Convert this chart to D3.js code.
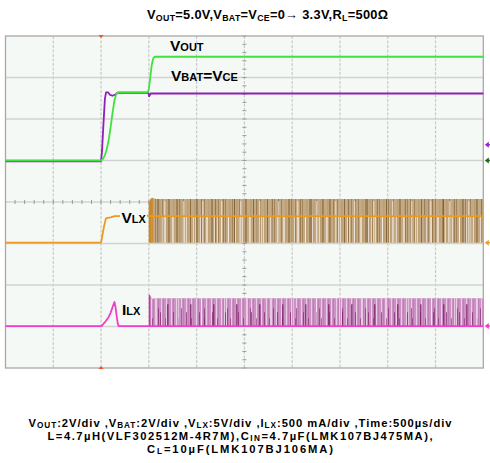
<!DOCTYPE html>
<meta charset="utf-8">
<style>
body { margin: 0; background: #fff; }
svg { display: block; font-family: "Liberation Sans", Arial, sans-serif; font-weight: bold; }
</style>
<body>
<script src="https://d3js.org/d3.v7.min.js"></script>
<script>

// ---- data (time in µs, volts / mA) ----
var vout = [[0,0],[1000,0],[1020,0.08],[1040,0.25],[1060,0.55],[1080,1.0],[1100,1.6],[1120,2.3],
            [1140,2.9],[1160,3.2],[1180,3.3],[1490,3.3],[1500,3.45],[1515,4.0],[1530,4.6],
            [1545,4.9],[1560,5.0],[5000,5.0]];
var vbat = [[0,0],[1000,0],[1010,0.5],[1025,1.8],[1040,3.0],[1052,3.32],[1075,3.32],[1095,3.2],
            [1120,3.16],[1150,3.22],[1175,3.3],[1495,3.3],[1503,3.14],[1520,3.27],[5000,3.27]];
var vlx  = [[0,0],[1000,0],[1010,0.6],[1030,1.9],[1050,2.9],[1070,3.0],[1100,3.05],[1140,3.2],
            [1490,3.25],[1500,3.2],[5000,3.2]];
var vlxHigh = [[1500,4.8],[1520,5.3],[1540,5.4],[1560,5.3],[1600,5.25],[5000,5.25]];
var ilx  = [[0,0],[1005,0],[1020,20],[1050,60],[1080,110],[1100,160],[1115,210],[1130,260],
            [1140,290],[1150,240],[1160,150],[1175,30],[1185,0],[1500,0],[5000,0]];
var ilxHigh = [[1500,380],[1515,370],[1535,330],[1560,335],[5000,335]];

var burstEnd = 1540;      // dense start of switching
var triggerT = 1000;      // trigger position

var timeTicks = d3.range(0, 5001, 500);
var divTicks  = d3.range(0, 9, 1);

// channel settings: ground position (divisions from bottom) and units per division
var chVout = {ground: 5.0,  perDiv: 2},
    chVbat = {ground: 4.98, perDiv: 2},
    chVlx  = {ground: 3.02, perDiv: 5},
    chIlx  = {ground: 1.01, perDiv: 500};

var titleParts = [["V",0],["OUT",1],["=5.0V,V",0],["BAT",1],["=V",0],["CE",1],["=0\u2192 3.3V,R",0],["L",1],["=500\u03a9",0]];
var noteLines = [
  [["V",0],["OUT",1],[":2V/div ,V",0],["BAT",1],[":2V/div ,V",0],["LX",1],[":5V/div ,I",0],["LX",1],[":500 mA/div ,Time:500\u00b5s/div",0]],
  [["L=4.7\u00b5H(VLF302512M-4R7M),C",0],["IN",1],["=4.7\u00b5F(LMK107BJ475MA),",0]],
  [["C",0],["L",1],["=10\u00b5F(LMK107BJ106MA)",0]]
];
var noteWidths = [423, 385, 186];

// ---- layout ----
var W = 490, H = 463;
var x0 = 5.5, x1 = 483.3, y0 = 36, y1 = 368;

var svg = d3.select("body").append("svg").attr("width", W).attr("height", H);

var x = d3.scaleLinear().domain([0, 5000]).range([x0, x1]);
var yDiv = d3.scaleLinear().domain([0, 8]).range([y1, y0]);
function yOf(ch) { return function(v) { return yDiv(ch.ground + v / ch.perDiv); }; }

// background
svg.append("rect").attr("x", x0).attr("y", y0).attr("width", x1 - x0).attr("height", y1 - y0)
  .attr("fill", "#f5f9f5");

// grid
svg.append("g").selectAll("line").data(timeTicks.slice(1, -1)).enter().append("line")
  .attr("x1", function(d) { return x(d); }).attr("x2", function(d) { return x(d); })
  .attr("y1", y0).attr("y2", y1)
  .attr("stroke", "#c9c9c9").attr("stroke-width", 1.2).attr("stroke-dasharray", "3,1.5");
svg.append("g").selectAll("line").data(divTicks.slice(1, -1)).enter().append("line")
  .attr("x1", x0).attr("x2", x1)
  .attr("y1", function(d) { return yDiv(d); }).attr("y2", function(d) { return yDiv(d); })
  .attr("stroke", "#d2d2d2").attr("stroke-width", 1.4);

// centre line minor ticks
var minorT = d3.range(0, 5001, 100);
svg.append("g").selectAll("line").data(minorT).enter().append("line")
  .attr("x1", function(d) { return x(d); }).attr("x2", function(d) { return x(d); })
  .attr("y1", yDiv(4) - 2).attr("y2", yDiv(4) + 2)
  .attr("stroke", "#9a9a9a").attr("stroke-width", 1);
var minorV = d3.range(0, 8.01, 0.2);
svg.append("g").selectAll("line").data(minorV).enter().append("line")
  .attr("x1", x(2500) - 2).attr("x2", x(2500) + 2)
  .attr("y1", function(d) { return yDiv(d); }).attr("y2", function(d) { return yDiv(d); })
  .attr("stroke", "#9a9a9a").attr("stroke-width", 1);

// border
svg.append("rect").attr("x", x0).attr("y", y0).attr("width", x1 - x0).attr("height", y1 - y0)
  .attr("fill", "none").attr("stroke", "#a8a8a8").attr("stroke-width", 1.3);

// ---- textures for the switching bands ----
var defs = svg.append("defs");
function stripes(id, w, h, yOrigin, base, lines) {
  var p = defs.append("pattern").attr("id", id).attr("patternUnits", "userSpaceOnUse")
    .attr("width", w).attr("height", h).attr("y", yOrigin);
  if (base) p.append("rect").attr("width", w).attr("height", h).attr("fill", base);
  lines.forEach(function(l) {
    p.append("rect").attr("x", l[0]).attr("y", h - l[3]).attr("width", l[1]).attr("height", l[3])
      .attr("fill", l[2]).attr("opacity", l[4] == null ? 1 : l[4]);
  });
}

var vlxTop = yOf(chVlx)(5.25), vlxBot = yOf(chVlx)(0);
var vh = vlxBot - vlxTop + 4;
stripes("vlxA", 7, vh, vlxTop - 4, "#c4aa84", [[1, 1, "#9a7a4e", vh, 0.8], [4, 1, "#ffffff", vh - 20, 0.55], [5.5, 0.8, "#b39467", vh]]);
stripes("vlxB", 11, vh, vlxTop - 4, null, [[3, 1, "#6e4d22", vh, 0.45], [8, 1, "#ffffff", vh - 22, 0.5]]);
stripes("vlxC", 19, vh, vlxTop - 4, null, [[12, 1.3, "#f4efe6", vh - 6, 0.6], [6, 1, "#5a3c15", vh - 4, 0.4]]);

var ilxTop = yOf(chIlx)(335), ilxBot = yOf(chIlx)(0);
var ih = ilxBot - ilxTop + 4;
stripes("ilxA", 5, ih, ilxTop - 4, "#cc92c3", [[1, 1, "#ffffff", ih - 4, 0.55], [3, 1, "#bf7eb4", ih]]);
stripes("ilxB", 13, ih, ilxTop - 4, null, [[4, 1, "#8a2574", ih - 18, 0.75], [9, 1, "#8a2574", ih - 24, 0.6]]);
stripes("ilxC", 23, ih, ilxTop - 4, null, [[6, 1.5, "#7a1a66", ih - 10, 0.75], [17, 1, "#ffffff", ih - 4, 0.5], [20, 1, "#7a1a66", ih - 14, 0.6]]);

// ---- VLX band ----
var yVlx = yOf(chVlx);
var vlxArea = d3.area().x(function(d) { return x(d[0]); })
  .y0(yVlx(0)).y1(function(d) { return yVlx(d[1]); });
["vlxA", "vlxB", "vlxC"].forEach(function(id) {
  svg.append("path").datum(vlxHigh).attr("d", vlxArea).attr("fill", "url(#" + id + ")");
});
svg.append("path").datum(vlxHigh.filter(function(d) { return d[0] <= burstEnd; }))
  .attr("d", vlxArea).attr("fill", "#cf8510").attr("opacity", 0.85);

// ---- ILX band ----
var yIlx = yOf(chIlx);
var ilxArea = d3.area().x(function(d) { return x(d[0]); })
  .y0(yIlx(0)).y1(function(d) { return yIlx(d[1]); });
["ilxA", "ilxB", "ilxC"].forEach(function(id) {
  svg.append("path").datum(ilxHigh).attr("d", ilxArea).attr("fill", "url(#" + id + ")");
});
svg.append("path").datum(ilxHigh.filter(function(d) { return d[0] <= 1530; }))
  .attr("d", ilxArea).attr("fill", "#d8259e").attr("opacity", 0.9);

// ---- traces ----
function trace(data, ch, color, w) {
  var yy = yOf(ch);
  svg.append("path").datum(data)
    .attr("d", d3.line().x(function(d) { return x(d[0]); }).y(function(d) { return yy(d[1]); }))
    .attr("fill", "none").attr("stroke", color).attr("stroke-width", w)
    .attr("stroke-linejoin", "round");
}
trace(vbat, chVbat, "#8e1fb8", 1.8);
trace(vout, chVout, "#3fe23f", 1.8);
trace(vlx, chVlx, "#ec9a1e", 1.8);
trace(ilx, chIlx, "#f23ccc", 1.8);

// ---- labels ----
function rich(g, parts, big, small, subDy) {
  var t = g.append("text");
  parts.forEach(function(p, i) {
    var dy = 0;
    if (p[1]) dy = subDy;
    else if (i > 0 && parts[i - 1][1]) dy = -subDy;
    t.append("tspan").text(p[0]).style("font-size", (p[1] ? small : big) + "px").attr("dy", dy);
  });
  return t;
}

var lab;
lab = rich(svg, [["V",0],["OUT",1]], 15.5, 11, 0); lab.attr("x", 170).attr("y", 51);
lab = rich(svg, [["V",0],["BAT",1],["=V",0],["CE",1]], 15.5, 11, 0); lab.attr("x", 171).attr("y", 81);

svg.append("rect").attr("x", 120).attr("y", 209).attr("width", 27).attr("height", 16).attr("fill", "#f5f9f5");
lab = rich(svg, [["V",0],["LX",1]], 15.5, 11, 0); lab.attr("x", 121.5).attr("y", 223.3);
lab = rich(svg, [["I",0],["LX",1]], 15.5, 11, 0); lab.attr("x", 122).attr("y", 315);

// title
lab = rich(svg, titleParts, 12.8, 8.8, 2);
lab.attr("x", 147).attr("y", 19).attr("textLength", 241).attr("lengthAdjust", "spacing");

// notes
noteLines.forEach(function(parts, i) {
  rich(svg, parts, 11.2, 8.2, 0.8).attr("x", 240 - noteWidths[i] / 2).attr("y", 427.3 + i * 12.9)
    .attr("textLength", noteWidths[i]).attr("lengthAdjust", "spacing");
});

// ---- channel ground markers (right side) & trigger markers ----
var markers = [[chVbat, 0.4, "#a020d0"], [chVout, 0, "#1a6a1a"], [chVlx, 0, "#f0a020"], [chIlx, 0, "#f03cc8"]];
markers.forEach(function(m) {
  var yy = yDiv(m[0].ground + m[1]);
  svg.append("path").attr("d", "M" + (x1 + 1.5) + "," + yy + "l4,-3v6z").attr("fill", m[2]);
  svg.append("line").attr("x1", x1 + 4).attr("x2", x1 + 7.5).attr("y1", yy).attr("y2", yy)
    .attr("stroke", m[2]).attr("stroke-width", 1.5);
});
svg.append("path").attr("d", "M" + (x(triggerT) - 2.5) + "," + (y0 - 1) + "h5l-2.5,3z").attr("fill", "#ff4a1a");
svg.append("path").attr("d", "M" + (x(triggerT) - 2.5) + "," + (y1 + 1) + "h5l-2.5,-3z").attr("fill", "#ff4a1a");

</script>
